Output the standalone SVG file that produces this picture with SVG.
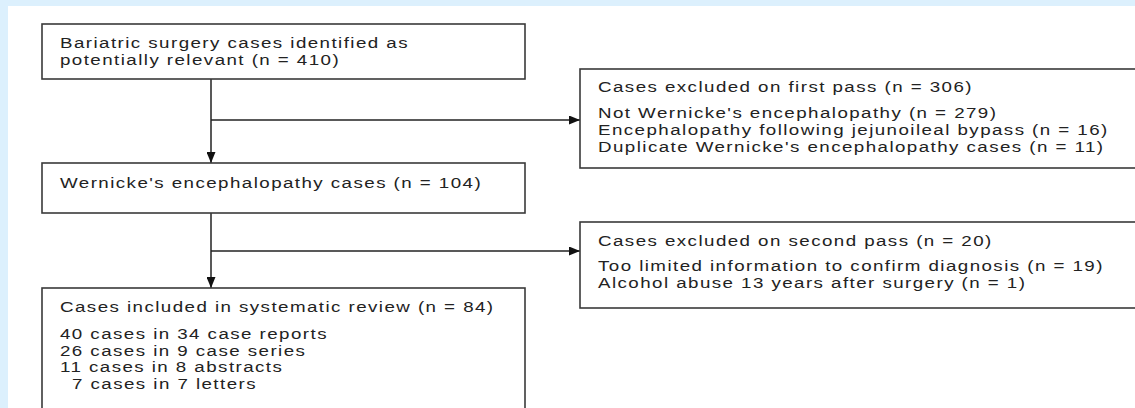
<svg xmlns="http://www.w3.org/2000/svg" width="1135" height="408" viewBox="0 0 1135 408">
<style>
.box{fill:#ffffff;stroke:#3a3a3a;stroke-width:1.6}
.t{font-family:"Liberation Sans",Arial,sans-serif;font-size:15px;fill:#222;letter-spacing:1.15px}
.c{fill:none;stroke:#222;stroke-width:1.5}
</style>
<defs>
<marker id="ah" markerWidth="11" markerHeight="9" refX="11" refY="4.5" orient="auto" markerUnits="userSpaceOnUse">
<path d="M0,0 L11,4.5 L0,9 Z" fill="#111"/>
</marker>
</defs>
<rect x="0" y="0" width="1135" height="408" fill="#dcf0fd"/>
<rect x="8" y="6" width="1127" height="402" fill="#ffffff"/>
<g id="connectors">
<line class="c" x1="211" y1="79" x2="211" y2="163" marker-end="url(#ah)"/>
<line class="c" x1="211" y1="120" x2="580" y2="120" marker-end="url(#ah)"/>
<line class="c" x1="211" y1="213" x2="211" y2="288" marker-end="url(#ah)"/>
<line class="c" x1="211" y1="251" x2="580" y2="251" marker-end="url(#ah)"/>
</g>
<g id="n1">
<rect class="box" x="42" y="24" width="483" height="55"/>
<text class="t" transform="translate(60,48) scale(1.25,1)">Bariatric surgery cases identified as</text>
<text class="t" transform="translate(60,65) scale(1.25,1)">potentially relevant (n = 410)</text>
</g>
<g id="n2">
<rect class="box" x="42" y="163" width="483" height="50"/>
<text class="t" transform="translate(60,188) scale(1.25,1)">Wernicke's encephalopathy cases (n = 104)</text>
</g>
<g id="n3">
<rect class="box" x="580" y="69" width="560" height="99"/>
<text class="t" transform="translate(598,92) scale(1.25,1)">Cases excluded on first pass (n = 306)</text>
<text class="t" transform="translate(598,118) scale(1.25,1)">Not Wernicke's encephalopathy (n = 279)</text>
<text class="t" transform="translate(598,135) scale(1.25,1)">Encephalopathy following jejunoileal bypass (n = 16)</text>
<text class="t" transform="translate(598,152) scale(1.25,1)">Duplicate Wernicke's encephalopathy cases (n = 11)</text>
</g>
<g id="n4">
<rect class="box" x="580" y="222" width="560" height="86"/>
<text class="t" transform="translate(598,246) scale(1.25,1)">Cases excluded on second pass (n = 20)</text>
<text class="t" transform="translate(598,271) scale(1.25,1)">Too limited information to confirm diagnosis (n = 19)</text>
<text class="t" transform="translate(598,288) scale(1.25,1)">Alcohol abuse 13 years after surgery (n = 1)</text>
</g>
<g id="n5">
<rect class="box" x="42" y="288" width="483" height="130"/>
<text class="t" transform="translate(60,312) scale(1.25,1)">Cases included in systematic review (n = 84)</text>
<text class="t" transform="translate(60,339) scale(1.25,1)">40 cases in 34 case reports</text>
<text class="t" transform="translate(60,356) scale(1.25,1)">26 cases in 9 case series</text>
<text class="t" transform="translate(60,372) scale(1.25,1)">11 cases in 8 abstracts</text>
<text class="t" transform="translate(72,389) scale(1.25,1)">7 cases in 7 letters</text>
</g>
</svg>
